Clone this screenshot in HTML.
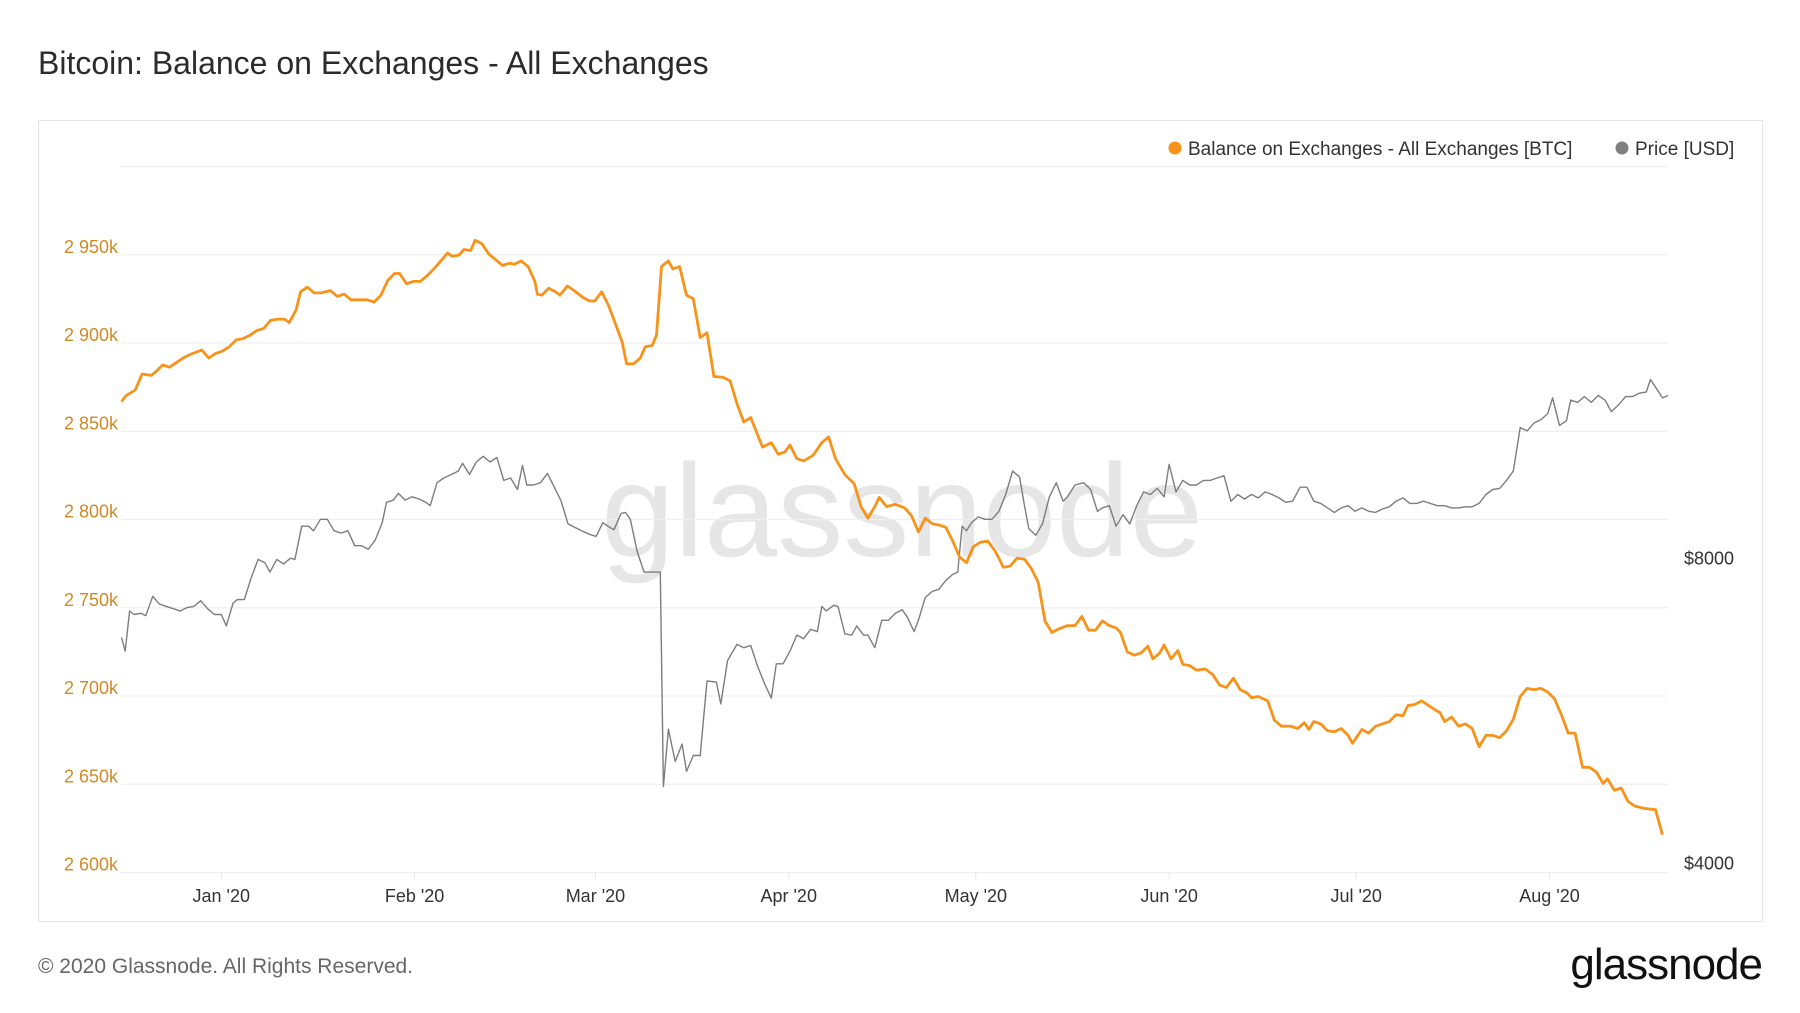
<!DOCTYPE html>
<html><head><meta charset="utf-8">
<style>
html,body{margin:0;padding:0;background:#fff;}
body{width:1800px;height:1013px;position:relative;overflow:hidden;font-family:"Liberation Sans",sans-serif;}
</style></head>
<body>
<div style="position:absolute;left:38px;top:45px;font-size:32px;color:#2b2b2b;">Bitcoin: Balance on Exchanges - All Exchanges</div>
<div style="position:absolute;left:38px;top:120px;width:1723px;height:800px;border:1px solid #e4e4e4;"></div>
<svg id="chart" width="1800" height="1013" style="position:absolute;left:0;top:0;" xmlns="http://www.w3.org/2000/svg">
  <text x="902" y="556" text-anchor="middle" font-family="Liberation Sans, sans-serif" font-size="132" fill="#e6e6e6">glassnode</text>
  <g id="grid"></g>
  <g id="series"></g>
  <g id="labels"></g>
  <g>
    <circle cx="1175" cy="148" r="6.5" fill="#f7931a"/>
    <text x="1188" y="155" font-family="Liberation Sans, sans-serif" font-size="19" fill="#333">Balance on Exchanges - All Exchanges [BTC]</text>
    <circle cx="1622" cy="148" r="6.5" fill="#808080"/>
    <text x="1635" y="155" font-family="Liberation Sans, sans-serif" font-size="19" fill="#333">Price [USD]</text>
  </g>
</svg>
<div style="position:absolute;left:38px;top:955px;font-size:21px;color:#666;">© 2020 Glassnode. All Rights Reserved.</div>
<div style="position:absolute;right:38px;top:940px;font-size:44px;color:#111;letter-spacing:-1px;">glassnode</div>
<script>
const balanceDays=[0,0.7,2.2,3.3,4.8,5.5,6.6,7.7,8.8,9.9,11.4,12.9,14,15.1,16.2,17.3,18.4,19.5,20.6,21.7,22.8,23.9,25,26.2,26.9,28,28.7,29.8,30.9,32,33.5,34.6,35.7,36.8,38.3,39.4,40.5,41.6,42.7,43.8,44.6,45.7,46.8,47.9,49,50.1,51.2,52.3,53,54.1,54.9,56,56.7,57.8,58.9,60,61.1,62.2,63,64.1,65.2,66.3,66.7,67.4,68.5,69.6,70.3,71.5,72.6,74,75.1,75.9,77,78.1,79.2,80.3,81,82.1,83.2,84,85.1,85.8,86.6,87.7,88.4,89.5,90.6,91.7,92.8,93.9,95,96.5,97.6,98.7,99.8,100.9,102.8,104.2,105.3,106.4,107.2,108.3,109.4,110.9,112.3,113.4,114.5,116,117.5,118.6,119.7,120.8,121.5,122.7,124.1,125.6,126.7,127.8,128.9,130,131.1,132.2,133.3,134.4,135.5,136.6,137.8,138.9,140,140.7,141.4,142.5,143.6,144.8,145.9,147,148.1,149.2,150.3,151.7,152.9,154,155.1,156.2,157.3,158.4,159.5,160.2,161.3,162.4,163.5,164.6,165.4,166.5,167.2,168.3,169.4,170.2,171.3,172.4,173.8,175,176.1,177.2,178.3,179.4,180.5,181.2,182.3,183.8,184.9,186,187.5,188.6,189.7,190.4,191.2,192.3,193.4,194.5,195.6,196.7,197.4,198.9,200,201.1,202.2,203.3,204.4,205.5,206.3,207.4,208.5,209.6,210.7,211.4,212.2,213.3,214.4,215.5,216.6,217.7,218.8,219.9,221,222.1,223.2,224.3,225.4,226.5,227.6,228.7,229.8,230.9,232,233.1,234.3,235.4,236.5,237.6,238.3,239.4,240.5,241.6,242.7,244.2,246,247.1];
const balanceValues=[2866.8,2870.1,2873.3,2882.4,2881.7,2883.7,2887.6,2886.3,2888.9,2891.5,2894.1,2896.0,2891.5,2894.1,2895.4,2897.9,2901.8,2902.5,2904.4,2907.0,2908.3,2912.8,2913.5,2913.5,2911.5,2918.7,2929.0,2931.6,2928.4,2928.4,2929.7,2926.4,2927.7,2924.5,2924.5,2924.5,2923.2,2927.1,2935.5,2939.4,2939.4,2933.6,2934.9,2934.9,2938.1,2942.0,2946.5,2951.0,2949.1,2949.8,2953.0,2952.4,2958.2,2956.2,2950.4,2947.2,2943.9,2945.2,2944.6,2946.5,2943.3,2934.9,2927.7,2927.1,2931.0,2929.0,2927.1,2932.3,2929.7,2925.8,2923.8,2923.8,2929.0,2921.3,2910.9,2900.5,2888.2,2888.2,2891.5,2897.9,2898.6,2904.4,2943.3,2946.5,2942.0,2943.3,2927.1,2925.1,2903.1,2905.7,2881.1,2880.5,2878.5,2865.6,2855.2,2857.8,2841.0,2843.5,2837.0,2838.3,2842.2,2834.5,2833.2,2836.4,2843.5,2846.8,2834.5,2825.4,2820.2,2807.3,2800.8,2807.3,2812.5,2807.3,2808.6,2806.6,2802.1,2793.0,2800.8,2797.6,2796.9,2795.6,2787.8,2778.8,2775.5,2784.6,2787.2,2787.8,2782.6,2778.1,2772.9,2773.6,2778.1,2777.5,2772.3,2764.5,2742.5,2736.0,2738.0,2739.9,2739.9,2745.1,2737.3,2737.3,2742.5,2739.9,2738.6,2736.0,2725.0,2723.1,2724.4,2728.3,2721.1,2724.4,2728.9,2721.1,2725.7,2717.9,2717.2,2714.6,2715.3,2712.1,2706.2,2704.9,2710.1,2703.6,2701.7,2699.1,2699.7,2697.2,2686.2,2682.9,2682.9,2681.6,2684.9,2681.0,2685.5,2684.2,2680.3,2679.7,2681.6,2677.7,2673.2,2681.0,2679.0,2682.9,2684.2,2685.5,2689.4,2688.8,2694.6,2695.2,2697.2,2694.6,2692.0,2690.7,2685.5,2688.1,2682.9,2684.2,2681.6,2671.3,2677.7,2677.7,2676.4,2680.3,2686.8,2699.7,2704.3,2703.6,2704.3,2702.3,2698.4,2689.4,2679.0,2679.0,2659.6,2659.6,2657.0,2650.5,2653.1,2646.6,2647.9,2640.2,2637.6,2636.3,2635.6,2621.4];
const priceDays=[0,0.6,1.3,2.0,3.1,3.9,5.0,6.1,7.2,8.3,9.4,10.5,11.6,12.7,13.8,14.9,16.0,16.8,17.9,18.6,19.7,20.8,21.9,23.0,23.8,24.9,26.0,27.1,27.8,28.9,30.0,30.8,31.9,33.0,34.1,35.2,36.3,37.4,38.5,39.6,40.7,41.8,42.5,43.6,44.4,45.5,46.6,47.7,48.8,49.5,50.6,51.7,52.9,54.0,54.7,55.8,56.9,58.0,59.1,60.2,61.3,62.4,63.5,64.3,65.0,66.1,67.2,68.3,69.4,70.5,71.6,72.7,73.8,75.0,76.1,77.2,78.3,79.0,80.1,80.8,81.6,82.7,83.8,85.6,86.4,86.9,87.7,88.8,89.9,90.6,91.7,92.8,93.9,95.4,96.1,97.2,98.7,99.8,100.9,102.0,103.1,104.2,105.0,106.1,107.2,108.3,109.4,110.5,111.6,112.3,113.0,114.2,114.9,116.0,117.1,117.9,119.0,119.7,120.8,121.9,123.0,124.1,125.2,126.0,127.1,127.8,128.9,130.0,131.1,132.2,133.3,134.1,134.8,135.5,136.3,137.4,138.5,139.6,140.7,141.8,142.9,144.0,144.8,145.5,146.6,147.7,148.8,149.9,151.0,151.7,152.9,154.3,155.4,156.5,157.3,158.4,159.5,160.6,161.7,162.8,163.9,165.0,166.1,167.2,168.0,169.1,170.2,171.3,172.4,173.5,174.6,175.7,176.8,177.9,179.0,180.1,181.2,182.3,183.4,184.5,185.6,186.7,187.8,189.0,190.1,191.2,192.3,193.4,194.5,195.6,196.7,197.8,198.9,200.0,201.1,202.2,203.3,204.4,205.5,206.6,207.7,208.8,209.9,211.0,212.2,213.3,214.4,215.5,216.6,217.7,218.8,219.9,221.0,222.1,223.2,224.3,225.4,226.5,227.6,228.7,229.5,230.6,231.7,232.4,233.5,234.6,235.7,236.8,237.9,238.9,240.1,241.2,242.3,243.4,244.5,245.2,246.4,247.1,248.0];
const priceValues=[6825,6615,7247,7190,7209,7171,7494,7361,7323,7285,7247,7304,7323,7418,7285,7190,7190,7005,7380,7437,7437,7815,8149,8086,7917,8149,8065,8170,8149,8787,8787,8696,8927,8927,8696,8652,8696,8407,8407,8340,8518,8857,9277,9324,9467,9324,9395,9348,9277,9207,9700,9804,9882,9960,10141,9882,10167,10300,10167,10271,9752,9804,9552,10089,9650,9650,9700,9908,9602,9306,8833,8763,8696,8629,8585,8857,8763,8718,9044,9067,8927,8296,7917,7917,7917,4863,5540,5148,5357,5033,5218,5218,6181,6165,5868,6478,6718,6667,6701,6393,6149,5945,6427,6427,6615,6861,6807,6951,6915,7323,7247,7342,7323,6879,6861,7005,6861,6861,6667,7095,7095,7209,7266,7152,6915,7095,7475,7575,7615,7770,7875,7917,8787,8696,8857,8974,8927,8927,9090,9443,9960,9830,9207,8740,8607,8833,9395,9700,9300,9395,9650,9700,9552,9090,9160,9207,8787,9020,8833,9207,9500,9443,9576,9395,10115,9500,9752,9650,9650,9752,9752,9804,9856,9300,9443,9348,9443,9371,9500,9443,9371,9277,9300,9602,9602,9300,9254,9160,9067,9160,9207,9090,9160,9090,9067,9137,9183,9300,9371,9254,9254,9300,9254,9207,9207,9160,9160,9183,9183,9254,9443,9552,9576,9752,9960,10995,10912,11108,11196,11342,11763,11050,11166,11703,11642,11796,11642,11826,11703,11401,11582,11796,11796,11888,11919,12264,11950,11763,11826];
const leftTicks=[2600,2650,2700,2750,2800,2850,2900,2950,3000];
const leftTickLabels=["2 600k","2 650k","2 700k","2 750k","2 800k","2 850k","2 900k","2 950k",""];
const rightTicks=[4000,8000];
const rightTickLabels=["$4000","$8000"];
const monthDays=[16,47,76,107,137,168,198,229];
const monthLabels=["Jan '20","Feb '20","Mar '20","Apr '20","May '20","Jun '20","Jul '20","Aug '20"];

const X0=121.5,X1=1668,D_MAX=248;
const YB=872.5,STEP=88.25;
const xScale=d=>X0+(d/D_MAX)*(X1-X0);
const yLeft=v=>YB-(v-2600)/50*STEP;
const yRight=p=>YB-Math.log2(p/4000)*305;
const NS="http://www.w3.org/2000/svg";
const grid=document.getElementById('grid'),series=document.getElementById('series'),labels=document.getElementById('labels');
function mk(tag,attrs,parent){const e=document.createElementNS(NS,tag);for(const k in attrs)e.setAttribute(k,attrs[k]);parent.appendChild(e);return e;}
leftTicks.forEach((v,i)=>{
  const y=yLeft(v);
  const l=mk('line',{x1:X0,x2:X1,y1:y,y2:y,stroke:'#efefef','stroke-width':1.2},grid);
  
  
  if(leftTickLabels[i]){
    const t=mk('text',{x:118,y:y-2,'text-anchor':'end','font-size':18,fill:'#d08a25','font-family':'Liberation Sans, sans-serif'},labels);
    t.textContent=leftTickLabels[i];
    
    
  }
});
rightTicks.forEach((p,i)=>{
  const t=mk('text',{x:1684,y:yRight(p)-3,'font-size':18,fill:'#333','font-family':'Liberation Sans, sans-serif'},labels);
  t.textContent=rightTickLabels[i];
  
  
});
monthDays.forEach((d,i)=>{
  const x=xScale(d);
  const tk=mk('line',{x1:x,x2:x,y1:YB,y2:YB+7,stroke:'#e6e6e6'},grid);
  
  
  const t=mk('text',{x:x,y:902,'text-anchor':'middle','font-size':18,fill:'#333','font-family':'Liberation Sans, sans-serif'},labels);
  t.textContent=monthLabels[i];
  
  
});
const pPrice=priceDays.map((d,i)=>xScale(d).toFixed(1)+','+yRight(priceValues[i]).toFixed(1)).join(' ');
const pl=mk('polyline',{points:pPrice,fill:'none',stroke:'#7d7d7d','stroke-width':1.4,'stroke-linejoin':'round'},series);


const pBal=balanceDays.map((d,i)=>xScale(d).toFixed(1)+','+yLeft(balanceValues[i]).toFixed(1)).join(' ');
const bl=mk('polyline',{points:pBal,fill:'none',stroke:'#f7931a','stroke-width':2.8,'stroke-linejoin':'round'},series);


</script>
</body></html>
